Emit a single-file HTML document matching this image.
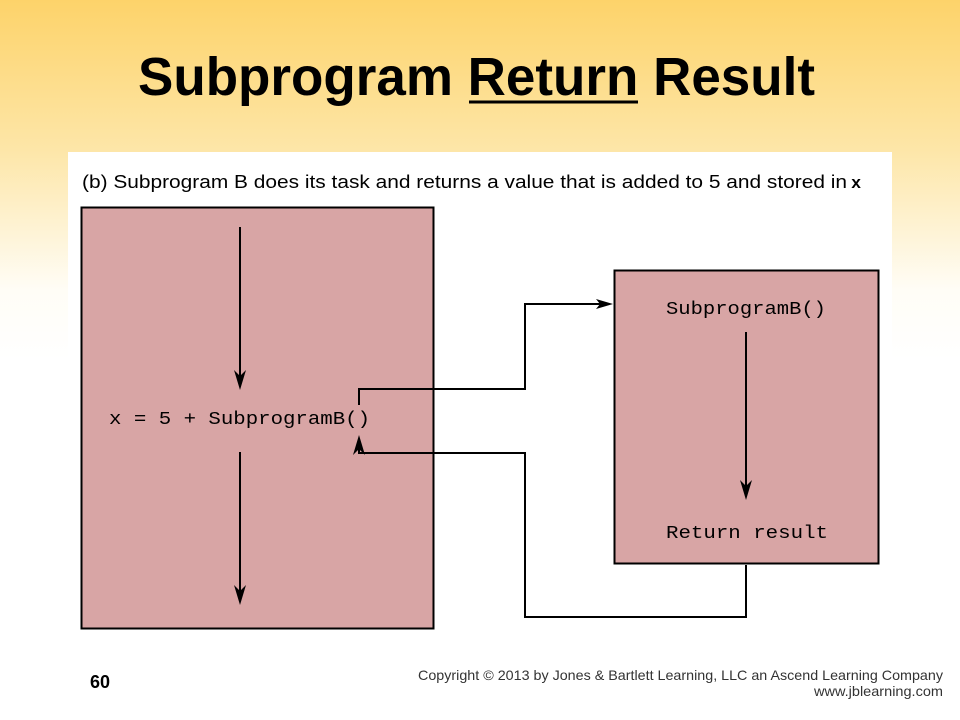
<!DOCTYPE html>
<html><head><meta charset="utf-8"><style>
html,body{margin:0;padding:0;width:960px;height:720px;overflow:hidden}
body{background:linear-gradient(to bottom,#fdd36a 0px,#fde6a8 150px,#fffdf6 290px,#ffffff 360px,#ffffff 720px)}
</style></head><body>
<svg width="960" height="720" viewBox="0 0 960 720" xmlns="http://www.w3.org/2000/svg" style="position:absolute;left:0;top:0">
<text x="138" y="95" font-family="Liberation Sans, sans-serif" font-weight="bold" font-size="54" textLength="677" lengthAdjust="spacingAndGlyphs">Subprogram Return Result</text>
<line x1="469" y1="102" x2="638" y2="102" stroke="#000" stroke-width="3"/>
<rect x="68" y="152" width="824" height="568" fill="#fff"/>
<text x="82" y="188" font-family="Liberation Sans, sans-serif" font-size="18" textLength="765" lengthAdjust="spacingAndGlyphs">(b) Subprogram B does its task and returns a value that is added to 5 and stored in</text>
<text x="851" y="188" font-family="Liberation Mono, monospace" font-size="17" font-weight="bold">x</text>
<rect x="81.5" y="207.5" width="352" height="421" fill="#d8a5a5" stroke="#000" stroke-width="2"/>
<rect x="614.5" y="270.5" width="264" height="293" fill="#d8a5a5" stroke="#000" stroke-width="2"/>
<g stroke="#000" stroke-width="2" fill="none">
<line x1="240" y1="227" x2="240" y2="378"/>
<line x1="240" y1="452" x2="240" y2="593"/>
<line x1="746" y1="332" x2="746" y2="488"/>
<polyline points="359,405 359,389 525,389 525,304 604,304"/>
<polyline points="746,565 746,617 525,617 525,453 359,453 359,446"/>
</g>
<g fill="#000">
<path d="M234,370 L240,390 L246,370 L240,376 Z"/>
<path d="M234,585 L240,605 L246,585 L240,591 Z"/>
<path d="M740,480 L746,500 L752,480 L746,486 Z"/>
<path d="M353,455 L359,435 L365,455 L359,449 Z"/>
<path d="M596,299 L613,304 L596,309 L600,304 Z"/>
</g>
<text x="109" y="424" font-family="Liberation Mono, monospace" font-size="18" textLength="261" lengthAdjust="spacingAndGlyphs">x = 5 + SubprogramB()</text>
<text x="666" y="314" font-family="Liberation Mono, monospace" font-size="18" textLength="160" lengthAdjust="spacingAndGlyphs">SubprogramB()</text>
<text x="666" y="538" font-family="Liberation Mono, monospace" font-size="18" textLength="162" lengthAdjust="spacingAndGlyphs">Return result</text>
<text x="90" y="688" font-family="Liberation Sans, sans-serif" font-weight="bold" font-size="18">60</text>
<text x="943" y="680" text-anchor="end" font-family="Liberation Sans, sans-serif" font-size="14" fill="#333" textLength="525" lengthAdjust="spacingAndGlyphs">Copyright © 2013 by Jones &amp; Bartlett Learning, LLC an Ascend Learning Company</text>
<text x="943" y="696" text-anchor="end" font-family="Liberation Sans, sans-serif" font-size="14" fill="#333" textLength="129" lengthAdjust="spacingAndGlyphs">www.jblearning.com</text>
</svg>
</body></html>
